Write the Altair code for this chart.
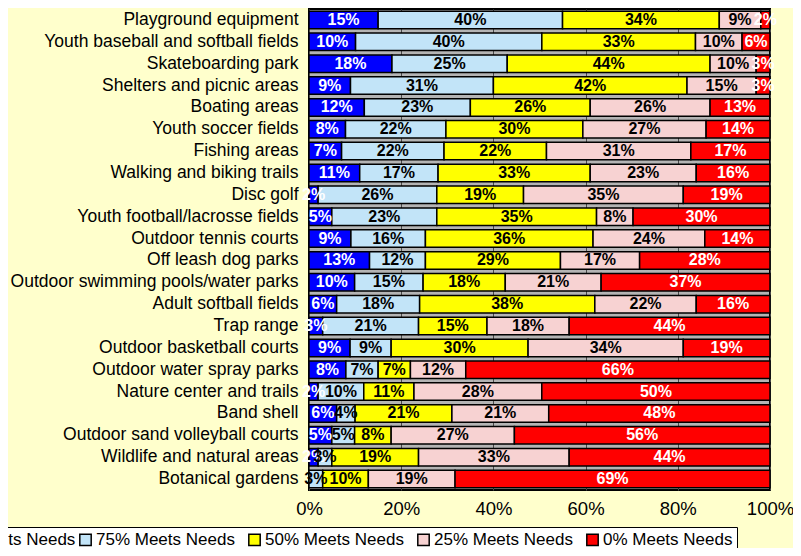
import altair as alt
import pandas as pd

categories = [
    "Playground equipment",
    "Youth baseball and softball fields",
    "Skateboarding park",
    "Shelters and picnic areas",
    "Boating areas",
    "Youth soccer fields",
    "Fishing areas",
    "Walking and biking trails",
    "Disc golf",
    "Youth football/lacrosse fields",
    "Outdoor tennis courts",
    "Off leash dog parks",
    "Outdoor swimming pools/water parks",
    "Adult softball fields",
    "Trap range",
    "Outdoor basketball courts",
    "Outdoor water spray parks",
    "Nature center and trails",
    "Band shell",
    "Outdoor sand volleyball courts",
    "Wildlife and natural areas",
    "Botanical gardens",
]

levels = ["100% Meets Needs", "75% Meets Needs", "50% Meets Needs",
          "25% Meets Needs", "0% Meets Needs"]

meets_100 = [15, 10, 18, 9, 12, 8, 7, 11, 2, 5, 9, 13, 10, 6, 3, 9, 8, 2, 6, 5, 2, 0]
meets_75 = [40, 40, 25, 31, 23, 22, 22, 17, 26, 23, 16, 12, 15, 18, 21, 9, 7, 10, 4, 5, 3, 3]
meets_50 = [34, 33, 44, 42, 26, 30, 22, 33, 19, 35, 36, 29, 18, 38, 15, 30, 7, 11, 21, 8, 19, 10]
meets_25 = [9, 10, 10, 15, 26, 27, 31, 23, 35, 8, 24, 17, 21, 22, 18, 34, 12, 28, 21, 27, 33, 19]
meets_0 = [2, 6, 3, 3, 13, 14, 17, 16, 19, 30, 14, 28, 37, 16, 44, 19, 66, 50, 48, 56, 44, 69]

series = [meets_100, meets_75, meets_50, meets_25, meets_0]
colors = ["#0000FF", "#C2E4F8", "#FFFF00", "#F7D2D2", "#FF0000"]

rows = []
for li, (lvl, vals) in enumerate(zip(levels, series)):
    for cat, v in zip(categories, vals):
        rows.append({"category": cat, "level": lvl, "order": li, "value": v})
df = pd.DataFrame(rows)

base = alt.Chart(df)

ysc = alt.Scale(paddingInner=0.2, paddingOuter=0.1)

bars = base.mark_bar(stroke="black", strokeWidth=1.5).encode(
    y=alt.Y("category:N", sort=categories, scale=ysc, title=None,
            axis=alt.Axis(labelFont="Liberation Sans", labelFontSize=17.5,
                          labelColor="black", labelPadding=11, ticks=False,
                          domain=False, labelLimit=400)),
    x=alt.X("value:Q", stack="normalize", title=None,
            scale=alt.Scale(domain=[0, 1], nice=False),
            axis=alt.Axis(format=".0%", values=[0, 0.2, 0.4, 0.6, 0.8, 1.0],
                          labelFont="Liberation Sans", labelFontSize=18.5,
                          labelColor="black", labelPadding=9, ticks=False,
                          domain=False, grid=True, gridColor="#4a4a4a",
                          gridWidth=1, labelFlush=False)),
    color=alt.Color("level:N", sort=levels,
                    scale=alt.Scale(domain=levels, range=colors),
                    legend=alt.Legend(title=None, orient="none", direction="horizontal",
                                      columns=5, legendX=-405, legendY=518,
                                      symbolType="square", symbolSize=130,
                                      symbolStrokeColor="black", symbolStrokeWidth=1.5,
                                      symbolOpacity=1,
                                      labelFont="Liberation Sans", labelFontSize=17,
                                      labelColor="black", labelOffset=2,
                                      columnPadding=0, gridAlign="all",
                                      fillColor="white", strokeColor="black",
                                      padding=4, labelLimit=300)),
    order=alt.Order("order:Q"),
)

labels = base.transform_filter("datum.value > 0").transform_stack(
    stack="value", groupby=["category"], as_=["x0", "x1"],
    sort=[alt.SortField("order")], offset="normalize"
).transform_calculate(
    mid="(datum.x0 + datum.x1) / 2",
    label="format(datum.value, 'd') + '%'",
    tcolor="(datum.order == 0 || datum.order == 4) ? 'white' : 'black'",
).mark_text(font="Liberation Sans", fontWeight="bold", fontSize=16,
            baseline="middle", align="center").encode(
    y=alt.Y("category:N", sort=categories, scale=ysc),
    x=alt.X("mid:Q", scale=alt.Scale(domain=[0, 1], nice=False)),
    text="label:N",
    color=alt.Color("tcolor:N", scale=None),
)

chart = alt.layer(bars, labels).properties(
    width=461, height=481,
    autosize=alt.AutoSizeParams(type="none"),
    padding={"left": 301, "top": 1, "right": 23, "bottom": 58},
    background="#FFFFCC",
).configure_view(
    fill="#B4B4B4", stroke="black", strokeWidth=2,
).configure_legend(
    symbolOpacity=1,
)

chart.save("out.html", embed_options={"renderer": "svg", "actions": False})
